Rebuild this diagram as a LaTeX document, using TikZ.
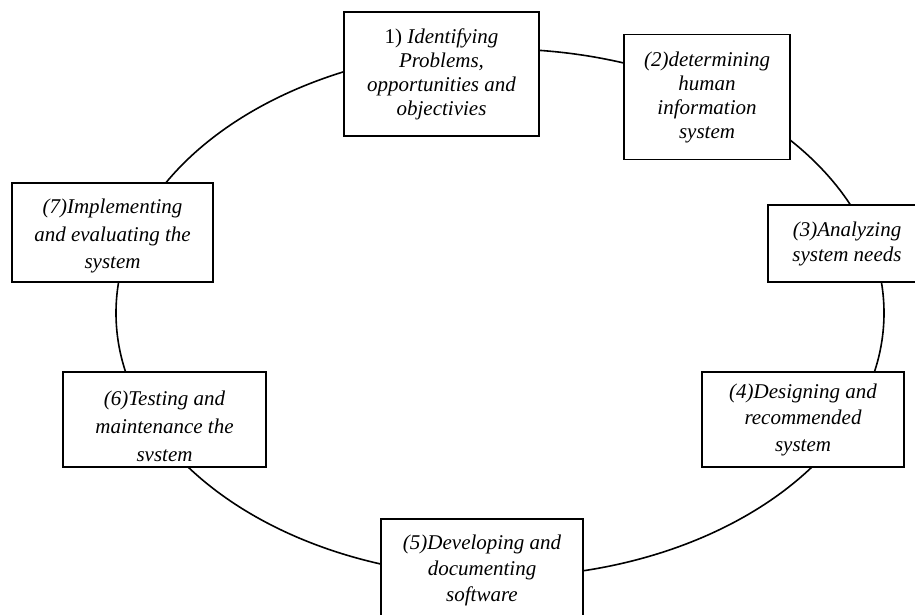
\documentclass[tikz,border=0pt]{standalone}
\usepackage{fontspec}
\setmainfont{Liberation Serif}
\begin{document}
\begin{tikzpicture}[x=1pt,y=-1pt,
  box/.style={draw=black, line width=1.7pt, fill=white, inner sep=0pt, align=center,
    font=\fontsize{21}{#1}\selectfont\itshape},
  box/.default=25pt,
  txt/.style={inner sep=0pt, align=center, font=\fontsize{21}{#1}\selectfont\itshape},
  ring/.style={draw=black, line width=1.6pt}]
\useasboundingbox (0,0) rectangle (915,615);
\clip (0,0) rectangle (915,615);
\draw[ring] (500,313) ellipse [x radius=384pt, y radius=264pt];
\node[box=24pt, minimum width=195pt, minimum height=124pt] (b1) at (441.5,74)
  {\upshape 1) \itshape Identifying\\Problems,\\opportunities and\\objectivies};
\node[box=24pt, minimum width=166pt, minimum height=125pt] (b2) at (707,97)
  {(2)determining\\human\\information\\system};
\node[box=25pt, minimum width=158pt, minimum height=77pt] (b3) at (847,243.5)
  {(3)Analyzing\\system needs};
\node[box=26.5pt, minimum width=202pt, minimum height=95pt] (b4) at (803,419.5)
  {(4)Designing and\\recommended\\system};
\node[box=26pt, minimum width=202pt, minimum height=102pt] (b5) at (482,570)
  {(5)Developing and\\documenting\\software};
\node[box, minimum width=203pt, minimum height=95pt] (b6) at (164.5,419.5) {};
\node[txt=28pt] (t6) at ([yshift=-6.5pt]b6.center)
  {(6)Testing and\\maintenance the\\svstem};
\node[box, minimum width=201pt, minimum height=99pt] (b7) at (112.5,232.5) {};
\node[txt=27.5pt] (t7) at ([yshift=-3.5pt]b7.center)
  {(7)Implementing\\and evaluating the\\system};
\end{tikzpicture}
\end{document}
